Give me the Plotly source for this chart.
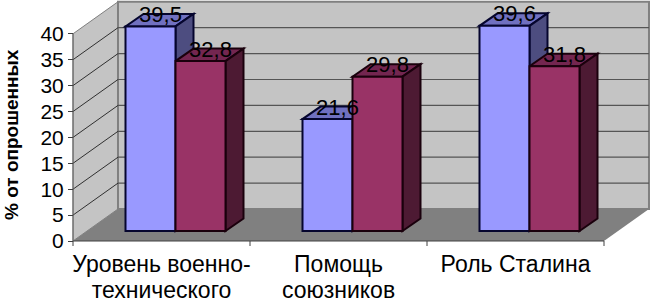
import plotly.graph_objects as go

category_lines = [["Уровень военно-", "технического"], ["Помощь", "союзников"], ["Роль Сталина"]]
series_a = [39.5, 21.6, 39.6]
series_b = [32.8, 29.8, 31.8]
y_ticks = [0, 5, 10, 15, 20, 25, 30, 35, 40]

W, H = 650, 302
X0, CAT, Y0, UNIT = 73.0, 177.0, 241.0, 5.18
DX, DY = 45 / CAT, 32 / UNIT                # full floor depth
BX, BY = 14 / CAT, 10 / UNIT                # bar front plane offset
SX, SY = 18 / CAT, 12.5 / UNIT              # bar depth
BW = 50 / CAT
xr = [-0.5 - X0 / CAT, -0.5 + (W - X0) / CAT]
yr = [(Y0 - H) / UNIT, Y0 / UNIT]
xa, xb = -0.5, 2.5
ymax = y_ticks[-1]

shapes = []


def poly(pts, fill, line="rgba(0,0,0,0)", width=0):
    path = "M " + " L ".join(f"{x:.4f},{y:.4f}" for x, y in pts) + " Z"
    shapes.append(dict(type="path", path=path, xref="x", yref="y", layer="below",
                       fillcolor=fill, line=dict(color=line, width=width)))


def seg(x1, y1, x2, y2, color, width=1):
    shapes.append(dict(type="line", x0=x1, y0=y1, x1=x2, y1=y2, xref="x", yref="y",
                       layer="below", line=dict(color=color, width=width)))


# walls and floor
poly([(xa, 0), (xa + DX, DY), (xa + DX, ymax + DY), (xa, ymax)], "#C4C4C4", "#808080", 1)
poly([(xa + DX, DY), (xb + DX, DY), (xb + DX, ymax + DY), (xa + DX, ymax + DY)], "#C4C4C4", "#808080", 2)
for t in y_ticks[1:-1]:
    seg(xa, t, xa + DX, t + DY, "#303030", 1)
    seg(xa + DX, t + DY, xb + DX, t + DY, "#555555", 1.2)
poly([(xa, 0), (xb, 0), (xb + DX, DY), (xa + DX, DY)], "#808080")
seg(xa, 0, xb, 0, "#404040", 1.2)
seg(xa, 0, xa, ymax, "#606060", 1)
for k in range(4):
    seg(xa + k, 0, xa + k, -5 / UNIT, "#404040", 1)

OUT_A, OUT_B = "#05052E", "#1A000C"
faces = [(series_a, -BW, "#7070C0", "#4D4D80", OUT_A), (series_b, 0, "#732650", "#4D1A33", OUT_B)]
for i in range(3):
    for vals, off, top, side, out in faces:
        l = i + BX + off
        r = l + BW
        b = BY
        t = BY + vals[i]
        poly([(l, t), (r, t), (r + SX, t + SY), (l + SX, t + SY)], top, out, 2)
        poly([(r, b), (r + SX, b + SY), (r + SX, t + SY), (r, t)], side, out, 2)

fig = go.Figure()
x_num = [0, 1, 2]
fig.add_bar(x=x_num, y=series_a, base=[BY] * 3, offset=BX - BW, width=BW,
            marker=dict(color="#9999FF", line=dict(color=OUT_A, width=2)), name="A")
fig.add_bar(x=x_num, y=series_b, base=[BY] * 3, offset=BX, width=BW,
            marker=dict(color="#993366", line=dict(color=OUT_B, width=2)), name="B")

lab_x = 10 / CAT
lab_y = 10 / UNIT
for vals, off in ((series_a, -BW / 2), (series_b, BW / 2)):
    fig.add_scatter(x=[i + BX + off + lab_x for i in x_num],
                    y=[v + BY + lab_y for v in vals],
                    mode="text",
                    text=[f"{v:.1f}".replace(".", ",") for v in vals],
                    textposition="middle center",
                    textfont=dict(family="Liberation Sans", size=22, color="#000000"),
                    cliponaxis=False)

categories = ["<br>".join(f'<span style="font-size:23px">{s}</span>' for s in lines)
              for lines in category_lines]
FONT = dict(family="Liberation Sans", size=20, color="#000000")
fig.update_layout(
    width=W, height=H, margin=dict(l=0, r=0, t=0, b=0), autosize=False,
    paper_bgcolor="#FFFFFF", plot_bgcolor="#FFFFFF", showlegend=False,
    barmode="overlay", shapes=shapes,
    xaxis=dict(range=xr, tickmode="array", tickvals=x_num, ticktext=categories, automargin=False,
               tickfont=FONT, ticklen=6, ticks="outside", tickcolor="rgba(0,0,0,0)",
               showgrid=False, zeroline=False, showline=False,
               anchor="free", position=(H - Y0) / H, tickangle=0),
    yaxis=dict(range=yr, tickmode="array", tickvals=y_ticks, automargin=False,
               tickfont=dict(family="Liberation Sans", size=21, color="#000000"),
               ticks="outside", ticklen=5, tickcolor="#404040",
               showgrid=False, zeroline=False, showline=False,
               anchor="free", position=X0 / W),
    annotations=[dict(text="<b>% от опрошенных</b>", textangle=-90, xref="paper", yref="paper",
                      x=12 / W, y=1 - 135 / H, showarrow=False, xanchor="center", yanchor="middle",
                      font=dict(family="Liberation Sans", size=19, color="#000000"))],
)
fig.write_html("out.html", config={"displayModeBar": False},
               post_script="document.body.style.margin='0';document.documentElement.style.overflow='hidden';")
